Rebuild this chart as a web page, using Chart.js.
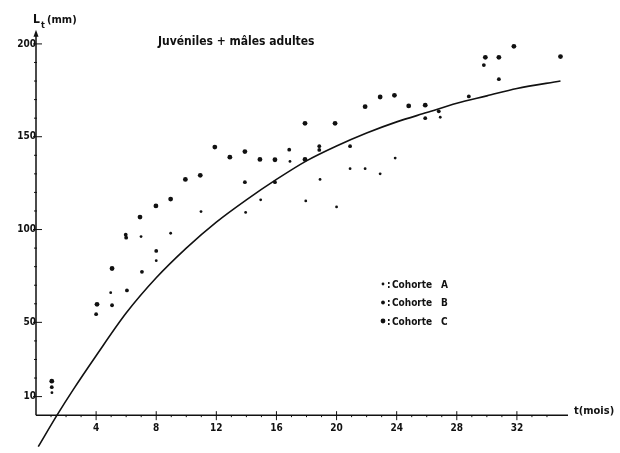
<!DOCTYPE html>
<html>
<head>
<meta charset="utf-8">
<script src="https://cdn.jsdelivr.net/npm/chart.js@4/dist/chart.umd.min.js"></script>
<style>
  html, body { margin: 0; padding: 0; background: #fff; }
</style>
</head>
<body>
<canvas id="growth" width="620" height="453"></canvas>
<script>
// tick labels
const xTicks = [4, 8, 12, 16, 20, 24, 28, 32];
const yTicks = [10, 50, 100, 150, 200];

// Cohorte A (small dots)
const cohorteA_t = [1.06, 4.97, 6.99, 8.0, 8.96, 10.98, 13.95, 14.95, 16.9, 17.95, 18.9, 20.0, 20.9, 21.9, 22.9, 23.9, 26.9];
const cohorteA_L = [12.1, 66, 96.2, 83.2, 98, 109.7, 109.2, 116, 136.7, 115.4, 127, 112.2, 132.8, 132.8, 130, 138.5, 160.5];

// Cohorte B (medium dots)
const cohorteB_t = [1.05, 4.0, 5.06, 6.05, 5.97, 6.0, 7.05, 8.0, 13.9, 15.9, 16.85, 18.85, 18.85, 20.9, 25.9, 26.8, 28.8, 29.8, 30.8];
const cohorteB_L = [15.1, 54.4, 59.2, 67.2, 97.2, 95.6, 77.2, 88.5, 125.5, 125.5, 143, 144.9, 142.9, 144.9, 160, 163.7, 171.7, 188.6, 181];

// Cohorte C (big dots)
const cohorteC_t = [1.05, 4.06, 5.06, 6.92, 7.98, 8.96, 9.94, 10.93, 11.9, 12.9, 13.9, 14.9, 15.9, 17.9, 17.9, 19.9, 21.9, 22.9, 23.85, 24.8, 25.9, 29.9, 30.8, 31.8, 34.9];
const cohorteC_L = [18.3, 59.7, 79, 106.7, 112.7, 116.4, 127, 129.2, 144.4, 139, 142, 137.8, 137.6, 157.2, 137.8, 157.2, 166.2, 171.4, 172.3, 166.6, 167, 192.8, 192.8, 198.7, 193.2];

// fitted growth curve
const curveT = [0.15, 1.4, 2.5, 4, 6, 8, 10, 12, 14, 16, 18, 20, 22, 24, 26, 28, 30, 32, 34.9];
const curveL = [-17, 0, 14, 32, 55, 74, 90, 104, 116, 127, 137, 145, 152, 158, 163, 168, 172, 176, 180];

const INK = '#111';
const FONT = "'DejaVu Sans Condensed', 'DejaVu Sans', sans-serif";

function pts(ts, ls) {
  return ts.map((t, i) => ({ x: t, y: ls[i] }));
}

// axes, arrow, title, legend
const decor = {
  id: 'decor',
  afterDraw(chart) {
    const ctx = chart.ctx;
    const xs = chart.scales.x, ys = chart.scales.y;
    const x0 = xs.getPixelForValue(0), y0 = ys.getPixelForValue(0);
    const xEnd = xs.getPixelForValue(35.4), yTop = ys.getPixelForValue(205);
    ctx.save();
    ctx.strokeStyle = INK;
    ctx.fillStyle = INK;
    ctx.lineWidth = 1.5;
    ctx.beginPath();
    ctx.moveTo(x0, y0); ctx.lineTo(xEnd, y0);
    ctx.moveTo(x0, y0); ctx.lineTo(x0, yTop);
    ctx.stroke();
    // arrow
    ctx.beginPath();
    ctx.moveTo(x0, yTop - 5); ctx.lineTo(x0 - 2.5, yTop + 2); ctx.lineTo(x0 + 2.5, yTop + 2);
    ctx.closePath(); ctx.fill();
    // major ticks
    ctx.lineWidth = 1;
    ctx.beginPath();
    xTicks.forEach(v => {
      const p = xs.getPixelForValue(v);
      ctx.moveTo(p, y0 - 4); ctx.lineTo(p, y0 + 5);
    });
    yTicks.forEach(v => {
      const p = ys.getPixelForValue(v);
      ctx.moveTo(x0 - 3, p); ctx.lineTo(x0 + 6, p);
    });
    // minor ticks
    for (let v = 10; v < 200; v += 10) {
      if (yTicks.includes(v)) continue;
      const p = ys.getPixelForValue(v);
      ctx.moveTo(x0 - 2, p); ctx.lineTo(x0 + 1, p);
    }
    for (let v = 1; v < 35; v++) {
      if (xTicks.includes(v)) continue;
      const p = xs.getPixelForValue(v);
      ctx.moveTo(p, y0); ctx.lineTo(p, y0 + 2);
    }
    ctx.stroke();

    // axis titles
    ctx.textBaseline = 'alphabetic';
    ctx.textAlign = 'left';
    ctx.font = 'bold 12px ' + FONT;
    ctx.fillText('L', 33, 23);
    ctx.font = 'bold 9px ' + FONT;
    ctx.fillText('t', 41, 28);
    ctx.font = 'bold 11px ' + FONT;
    ctx.fillText('(mm)', 47, 23);
    ctx.fillText('t(mois)', 574, 414);

    // title
    ctx.font = 'bold 12px ' + FONT;
    ctx.fillText('Juvéniles + mâles adultes', 158, 45);

    // legend
    const rows = [['A', 1.4], ['B', 1.9], ['C', 2.4]];
    ctx.font = 'bold 10px ' + FONT;
    rows.forEach((r, i) => {
      const y = 284 + i * 18.5;
      ctx.beginPath();
      ctx.arc(383, y, r[1], 0, Math.PI * 2);
      ctx.fill();
      ctx.fillText(':', 387, y + 3.5);
      ctx.fillText('Cohorte', 392, y + 3.5);
      ctx.fillText(r[0], 441, y + 3.5);
    });
    ctx.restore();
  }
};

const dotStyle = (r) => ({
  pointRadius: r,
  pointHoverRadius: r,
  pointBackgroundColor: INK,
  pointBorderWidth: 0,
  pointStyle: 'circle',
  showLine: false
});

new Chart(document.getElementById('growth'), {
  type: 'scatter',
  data: {
    datasets: [
      Object.assign({ label: 'Cohorte A', data: pts(cohorteA_t, cohorteA_L) }, dotStyle(1.4)),
      Object.assign({ label: 'Cohorte B', data: pts(cohorteB_t, cohorteB_L) }, dotStyle(1.9)),
      Object.assign({ label: 'Cohorte C', data: pts(cohorteC_t, cohorteC_L) }, dotStyle(2.4)),
      {
        label: 'Courbe',
        data: pts(curveT, curveL),
        showLine: true,
        borderColor: INK,
        borderWidth: 1.6,
        pointRadius: 0,
        cubicInterpolationMode: 'monotone',
        clip: false
      }
    ]
  },
  options: {
    responsive: false,
    animation: false,
    layout: { padding: { left: 36, right: 52, top: 30, bottom: 6 } },
    plugins: {
      legend: { display: false },
      tooltip: { enabled: false }
    },
    scales: {
      x: {
        type: 'linear',
        min: 0,
        max: 35.4,
        position: { y: 0 },
        border: { display: false },
        grid: { display: false, drawTicks: false },
        afterBuildTicks: s => { s.ticks = xTicks.map(v => ({ value: v })); },
        ticks: {
          padding: 7,
          maxRotation: 0,
          autoSkip: false,
          color: INK,
          font: { family: FONT, size: 10, weight: 'bold' }
        }
      },
      y: {
        type: 'linear',
        min: -15,
        max: 207.5,
        position: { x: 0 },
        border: { display: false },
        grid: { display: false, drawTicks: false },
        afterBuildTicks: s => { s.ticks = yTicks.map(v => ({ value: v })); },
        ticks: {
          padding: 4,
          autoSkip: false,
          color: INK,
          font: { family: FONT, size: 10, weight: 'bold' }
        }
      }
    }
  },
  plugins: [decor]
});
</script>
</body>
</html>
